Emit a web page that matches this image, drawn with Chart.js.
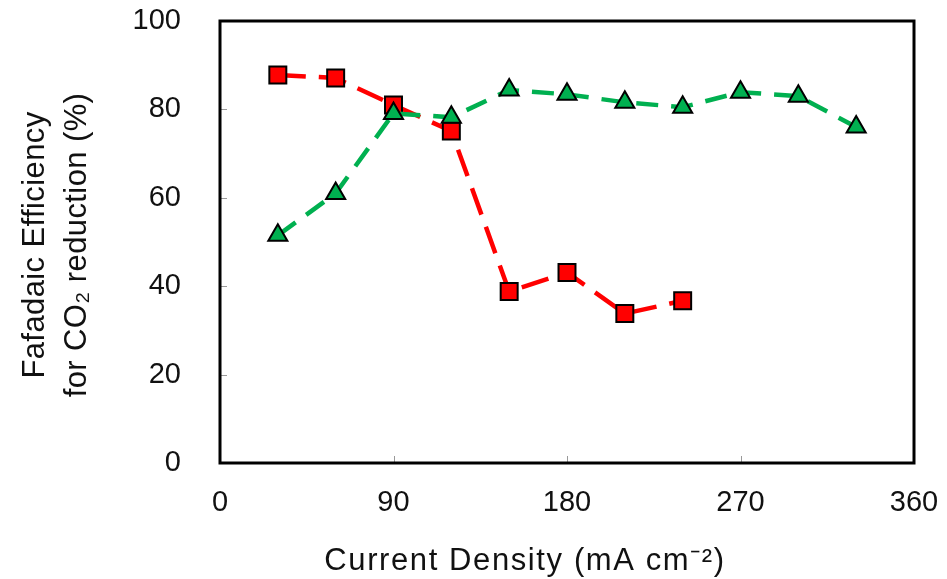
<!DOCTYPE html>
<html>
<head>
<meta charset="utf-8">
<script src="https://cdn.jsdelivr.net/npm/chart.js@4.4.1/dist/chart.umd.min.js"></script>
<style>
  html, body { margin: 0; padding: 0; background: #fff; }
  #wrap { width: 947px; height: 579px; position: relative; }
</style>
</head>
<body>
<div id="wrap"><canvas id="chart"></canvas></div>
<script>
// current density (mA cm-2)
const currentDensity = [30, 60, 90, 120, 150, 180, 210, 240, 270, 300, 330];
// Faradaic efficiency (%)
const redSeries = [87.8, 87.1, 81.0, 75.1, 38.8, 43.1, 33.8, 36.7];
const greenSeries = [51.5, 61.0, 79.1, 78.2, 84.4, 83.4, 81.6, 80.5, 83.9, 83.0, 76.0];
const xTicks = [0, 90, 180, 270, 360];
const yTicks = [0, 20, 40, 60, 80, 100];

const FONT = "'Liberation Sans', Arial, sans-serif";

const toPoints = (vals) => vals.map((v, i) => ({ x: currentDensity[i], y: v }));

// no extra room for edge labels, the plot box is fixed
const noPad = (s) => { s.paddingTop = 0; s.paddingBottom = 0; s.paddingLeft = 0; s.paddingRight = 0; };

// frame, inner tick marks and axis titles
const framePlugin = {
  id: 'frame',
  afterDatasetsDraw(chart) {
    const { ctx, chartArea: a, scales } = chart;
    ctx.save();
    ctx.strokeStyle = '#999';
    ctx.lineWidth = 1;
    yTicks.slice(1, -1).forEach(v => {
      const y = Math.round(scales.y.getPixelForValue(v)) + 0.5;
      ctx.beginPath(); ctx.moveTo(a.left, y); ctx.lineTo(a.left + 7, y); ctx.stroke();
    });
    xTicks.slice(1, -1).forEach(v => {
      const x = Math.round(scales.x.getPixelForValue(v)) + 0.5;
      ctx.beginPath(); ctx.moveTo(x, a.bottom); ctx.lineTo(x, a.bottom - 7); ctx.stroke();
    });
    ctx.strokeStyle = '#000';
    ctx.lineWidth = 3;
    ctx.strokeRect(a.left, a.top, a.right - a.left, a.bottom - a.top);

    ctx.fillStyle = '#111';
    ctx.textAlign = 'center';
    ctx.textBaseline = 'alphabetic';
    ctx.font = '31px ' + FONT;
    ctx.letterSpacing = '1.6px';
    ctx.fillText('Current Density (mA cm\u207B\u00B2)', 525, 570);

    ctx.letterSpacing = '0.4px';
    ctx.translate(0, 245);
    ctx.rotate(-Math.PI / 2);
    ctx.fillText('Fafadaic Efficiency', 0, 44);
    ctx.fillText('for CO\u2082 reduction (%)', 0, 86);
    ctx.restore();
  }
};

new Chart(document.getElementById('chart'), {
  type: 'line',
  data: {
    datasets: [
      {
        data: toPoints(greenSeries),
        borderColor: '#00b050',
        backgroundColor: '#00b050',
        borderWidth: 4.5,
        borderDash: [22, 13],
        pointStyle: 'triangle',
        pointRadius: 11,
        pointBorderColor: '#000',
        pointBorderWidth: 2,
        pointBackgroundColor: '#00b050',
        tension: 0
      },
      {
        data: toPoints(redSeries),
        borderColor: '#ff0000',
        backgroundColor: '#ff0000',
        borderWidth: 4.5,
        borderDash: [28, 13],
        pointStyle: 'rect',
        pointRadius: 12,
        pointBorderColor: '#000',
        pointBorderWidth: 2,
        pointBackgroundColor: '#ff0000',
        tension: 0
      }
    ]
  },
  options: {
    responsive: true,
    maintainAspectRatio: false,
    animation: false,
    layout: { padding: { top: 21, right: 33, left: 0, bottom: 0 } },
    plugins: {
      legend: { display: false },
      tooltip: { enabled: false }
    },
    scales: {
      x: {
        type: 'linear',
        min: 0,
        max: 360,
        afterBuildTicks: (s) => { s.ticks = xTicks.map(v => ({ value: v })); },
        afterFit: (s) => { s.height = 116; noPad(s); },
        grid: { display: false, drawTicks: false },
        border: { display: false },
        ticks: {
          padding: 23,
          color: '#111',
          font: { family: FONT, size: 29 },
          maxRotation: 0
        }
      },
      y: {
        min: 0,
        max: 100,
        afterBuildTicks: (s) => { s.ticks = yTicks.map(v => ({ value: v })); },
        afterFit: (s) => { s.width = 220; noPad(s); },
        grid: { display: false, drawTicks: false },
        border: { display: false },
        ticks: {
          padding: 39,
          color: '#111',
          font: { family: FONT, size: 29 }
        }
      }
    }
  },
  plugins: [framePlugin]
});
</script>
</body>
</html>
